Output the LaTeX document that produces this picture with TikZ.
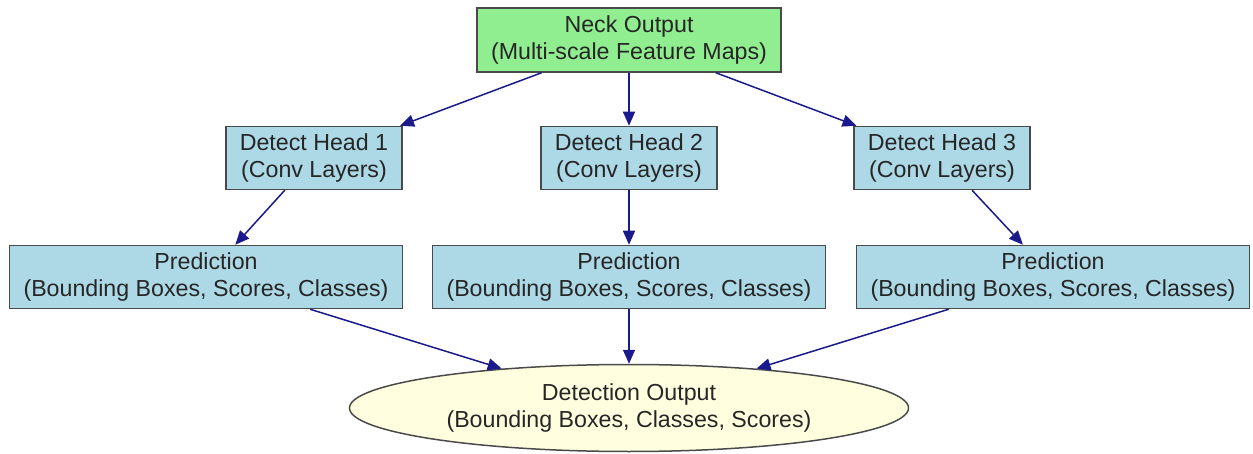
\documentclass[tikz,border=0pt]{standalone}
\usepackage{fontspec}
\setmainfont{Liberation Sans}
\usepackage{tikz}
\usetikzlibrary{arrows.meta,shapes.geometric}

\definecolor{neckgreen}{HTML}{90EE90}
\definecolor{headblue}{HTML}{ADD8E6}
\definecolor{outyellow}{HTML}{FFFFE0}
\definecolor{edgeblue}{HTML}{1A1A8C}
\definecolor{framegray}{HTML}{4A4A4A}

\begin{document}
\begin{tikzpicture}[x=0.5pt,y=-0.5pt,
	box/.style={shape=rectangle,draw=framegray,line width=0.75pt,inner sep=0pt,align=center,
		font=\fontsize{11.6}{13.5}\selectfont,text=black!85},
	neckbox/.style={box,fill=neckgreen,minimum width=152pt,minimum height=32pt},
	headbox/.style={box,fill=headblue,minimum width=88pt,minimum height=31.5pt},
	predbox/.style={box,fill=headblue,minimum width=196.5pt,minimum height=31.5pt},
	outellipse/.style={box,shape=ellipse,fill=outyellow,minimum width=279.5pt,minimum height=43.5pt},
	every edge/.style={draw=edgeblue,line width=0.75pt,-{Triangle[length=7pt,width=6pt]}}]
	\useasboundingbox (0,0) rectangle (1253,454);

	\node [neckbox] (N) at (629,40) {Neck Output\\(Multi-scale Feature Maps)};
	\node [headbox] (H1) at (314,158) {Detect Head 1\\(Conv Layers)};
	\node [headbox] (H2) at (629,158) {Detect Head 2\\(Conv Layers)};
	\node [headbox] (H3) at (942,158) {Detect Head 3\\(Conv Layers)};
	\node [predbox] (P1) at (206,277) {Prediction\\(Bounding Boxes, Scores, Classes)};
	\node [predbox] (P2) at (629,277) {Prediction\\(Bounding Boxes, Scores, Classes)};
	\node [predbox] (P3) at (1053,277) {Prediction\\(Bounding Boxes, Scores, Classes)};
	\node [outellipse] (O) at (629,408) {Detection Output\\(Bounding Boxes, Classes, Scores)};

	\path (N) edge (H1);
	\path (N) edge (H2);
	\path (N) edge (H3);
	\path (H1) edge (P1);
	\path (H2) edge (P2);
	\path (H3) edge (P3);
	\path (P1) edge (O);
	\path (P2) edge (O);
	\path (P3) edge (O);
\end{tikzpicture}
\end{document}
